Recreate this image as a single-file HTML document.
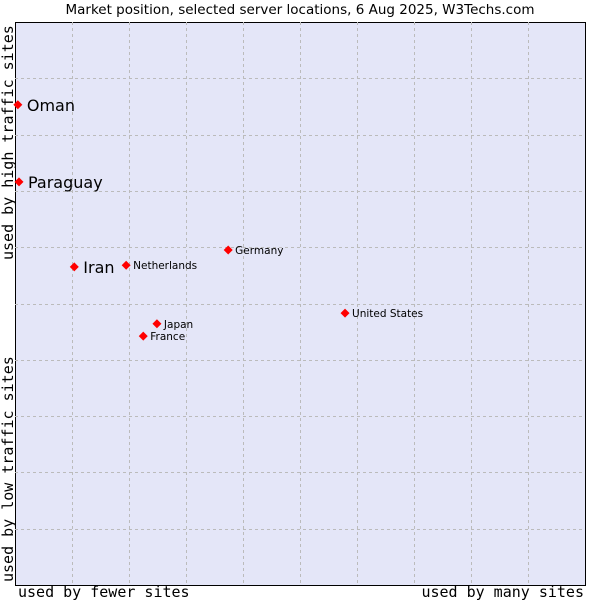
<!DOCTYPE html>
<html><head><meta charset="utf-8"><style>
body{margin:0;background:#fff;width:600px;height:600px;overflow:hidden}
text{font-family:"DejaVu Sans","Liberation Sans",sans-serif}
.mono{font-family:"DejaVu Sans Mono","Liberation Mono",monospace;font-size:15px}
</style></head><body>
<svg id="c" width="600" height="600">
<text x="300" y="14" text-anchor="middle" font-size="13.5">Market position, selected server locations, 6 Aug 2025, W3Techs.com</text>
<rect x="15.5" y="22.5" width="570" height="563" fill="#e4e6f8" stroke="#000"/>
<g id="grid"></g>
<g id="pts"></g>
<text class="mono" x="18" y="597">used by fewer sites</text>
<text class="mono" x="584" y="597" text-anchor="end">used by many sites</text>
<text class="mono" transform="translate(13,260) rotate(-90)">used by high traffic sites</text>
<text class="mono" transform="translate(13,582) rotate(-90)">used by low traffic sites</text>
</svg>
<script>
const names=["Oman","Paraguay","Iran","Netherlands","Germany","United States","Japan","France"];
const xs=[0.5,0.7,10.4,19.5,37.4,57.9,24.9,22.5];
const ys=[85.3,71.6,56.5,56.8,59.5,48.3,46.4,44.2];
const big=[true,true,true,false,false,false,false,false];
const L=15,R=585,T=22,B=585;
const sx=v=>L+v/100*(R-L), sy=v=>B-v/100*(B-T);
const ns="http://www.w3.org/2000/svg";
const g=document.getElementById('grid');
for(let i=1;i<10;i++){
 const x=L+i*57;
 const l=document.createElementNS(ns,'line');
 
 
 l.setAttribute('x1',x+.5);l.setAttribute('x2',x+.5);l.setAttribute('y1',T);l.setAttribute('y2',B);
 l.setAttribute('stroke','#bbb');l.setAttribute('stroke-dasharray','3,3');g.appendChild(l);
 const y=T+i*56.3;
 const h=document.createElementNS(ns,'line');
 
 
 h.setAttribute('y1',Math.round(y)+.5);h.setAttribute('y2',Math.round(y)+.5);h.setAttribute('x1',L);h.setAttribute('x2',R);
 h.setAttribute('stroke','#bbb');h.setAttribute('stroke-dasharray','3,3');g.appendChild(h);
}
const p=document.getElementById('pts');
names.forEach((n,i)=>{
 const x=sx(xs[i]),y=sy(ys[i]);
 const d=document.createElementNS(ns,'polygon');
 
 
 d.setAttribute('points',`${x},${y-4.5} ${x+4.5},${y} ${x},${y+4.5} ${x-4.5},${y}`);
 d.setAttribute('fill','#f00');p.appendChild(d);
 const t=document.createElementNS(ns,'text');
 
 
 t.setAttribute('x',x+(big[i]?9:7));t.setAttribute('y',y+(big[i]?6:4));
 t.setAttribute('font-size',big[i]?16:10.5);t.textContent=n;p.appendChild(t);
});
</script>
</body></html>
